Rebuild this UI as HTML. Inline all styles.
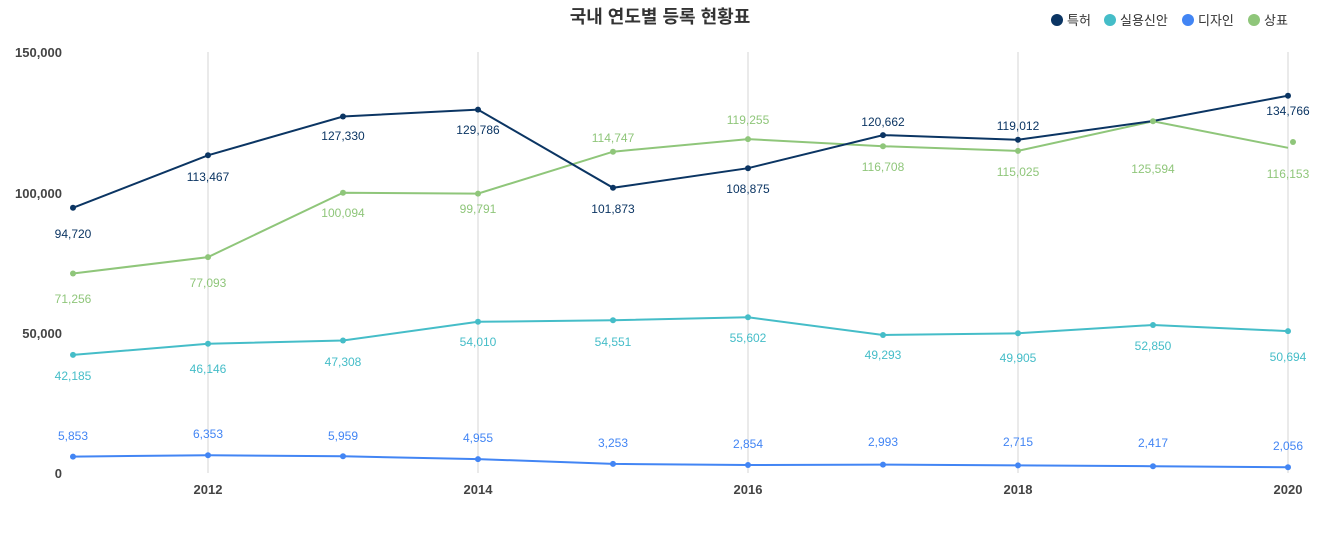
<!DOCTYPE html>
<html><head><meta charset="utf-8"><style>
html,body{margin:0;padding:0;background:#fff;width:1321px;height:533px;overflow:hidden}
svg{display:block;font-family:"Liberation Sans","Noto Sans CJK KR",sans-serif}
</style></head><body>
<svg width="1321" height="533" viewBox="0 0 1321 533">
<text x="660" y="23" text-anchor="middle" font-size="18" font-weight="bold" fill="#333">국내 연도별 등록 현황표</text>
<g font-size="13" fill="#333">
<circle cx="1057" cy="20" r="6" fill="#0b3563"/><text x="1067" y="25">특허</text>
<circle cx="1110" cy="20" r="6" fill="#45bdc8"/><text x="1120" y="25">실용신안</text>
<circle cx="1188" cy="20" r="6" fill="#4285f4"/><text x="1198" y="25">디자인</text>
<circle cx="1254" cy="20" r="6" fill="#8fc67a"/><text x="1264" y="25">상표</text>
</g>
<g stroke="#d6d6d6" stroke-width="1">
<line x1="208" y1="52" x2="208" y2="473"/><line x1="478" y1="52" x2="478" y2="473"/><line x1="748" y1="52" x2="748" y2="473"/><line x1="1018" y1="52" x2="1018" y2="473"/><line x1="1288" y1="52" x2="1288" y2="473"/>
</g>
<g font-size="13" font-weight="bold" fill="#444" text-anchor="end">
<text x="62" y="57">150,000</text><text x="62" y="198">100,000</text><text x="62" y="338">50,000</text><text x="62" y="478">0</text>
</g>
<g font-size="13" font-weight="bold" fill="#444" text-anchor="middle">
<text x="208" y="494">2012</text><text x="478" y="494">2014</text><text x="748" y="494">2016</text><text x="1018" y="494">2018</text><text x="1288" y="494">2020</text>
</g>
<g fill="none" stroke-width="2">
<polyline stroke="#8fc67a" points="73,273.5 208,257.1 343,192.7 478,193.6 613,151.7 748,139.1 883,146.2 1018,150.9 1153,121.3 1288,147.8"/>
<polyline stroke="#0b3563" points="73,207.8 208,155.3 343,116.5 478,109.6 613,187.8 748,168.2 883,135.1 1018,139.8 1153,121 1288,95.7"/>
<polyline stroke="#45bdc8" points="73,354.9 208,343.8 343,340.5 478,321.8 613,320.3 748,317.3 883,335 1018,333.3 1153,325 1288,331.1"/>
<polyline stroke="#4285f4" points="73,456.6 208,455.2 343,456.3 478,459.1 613,463.9 748,465 883,464.6 1018,465.4 1153,466.2 1288,467.2"/>
</g>
<g fill="#8fc67a"><circle cx="73" cy="273.5" r="3"/><circle cx="208" cy="257.1" r="3"/><circle cx="343" cy="192.7" r="3"/><circle cx="478" cy="193.6" r="3"/><circle cx="613" cy="151.7" r="3"/><circle cx="748" cy="139.1" r="3"/><circle cx="883" cy="146.2" r="3"/><circle cx="1018" cy="150.9" r="3"/><circle cx="1153" cy="121.3" r="3"/><circle cx="1293" cy="142" r="3"/></g>
<g fill="#0b3563"><circle cx="73" cy="207.8" r="3"/><circle cx="208" cy="155.3" r="3"/><circle cx="343" cy="116.5" r="3"/><circle cx="478" cy="109.6" r="3"/><circle cx="613" cy="187.8" r="3"/><circle cx="748" cy="168.2" r="3"/><circle cx="883" cy="135.1" r="3"/><circle cx="1018" cy="139.8" r="3"/><circle cx="1288" cy="95.7" r="3"/></g>
<g fill="#45bdc8"><circle cx="73" cy="354.9" r="3"/><circle cx="208" cy="343.8" r="3"/><circle cx="343" cy="340.5" r="3"/><circle cx="478" cy="321.8" r="3"/><circle cx="613" cy="320.3" r="3"/><circle cx="748" cy="317.3" r="3"/><circle cx="883" cy="335" r="3"/><circle cx="1018" cy="333.3" r="3"/><circle cx="1153" cy="325" r="3"/><circle cx="1288" cy="331.1" r="3"/></g>
<g fill="#4285f4"><circle cx="73" cy="456.6" r="3"/><circle cx="208" cy="455.2" r="3"/><circle cx="343" cy="456.3" r="3"/><circle cx="478" cy="459.1" r="3"/><circle cx="613" cy="463.9" r="3"/><circle cx="748" cy="465" r="3"/><circle cx="883" cy="464.6" r="3"/><circle cx="1018" cy="465.4" r="3"/><circle cx="1153" cy="466.2" r="3"/><circle cx="1288" cy="467.2" r="3"/></g>
<g font-size="12" text-anchor="middle">
<g fill="#0b3563"><text x="73" y="238">94,720</text><text x="208" y="181">113,467</text><text x="343" y="140">127,330</text><text x="478" y="134">129,786</text><text x="613" y="213">101,873</text><text x="748" y="193">108,875</text><text x="883" y="126">120,662</text><text x="1018" y="130">119,012</text><text x="1288" y="115">134,766</text></g>
<g fill="#8fc67a"><text x="73" y="303">71,256</text><text x="208" y="287">77,093</text><text x="343" y="217">100,094</text><text x="478" y="213">99,791</text><text x="613" y="142">114,747</text><text x="748" y="124">119,255</text><text x="883" y="171">116,708</text><text x="1018" y="176">115,025</text><text x="1153" y="173">125,594</text><text x="1288" y="178">116,153</text></g>
<g fill="#45bdc8"><text x="73" y="380">42,185</text><text x="208" y="373">46,146</text><text x="343" y="366">47,308</text><text x="478" y="346">54,010</text><text x="613" y="346">54,551</text><text x="748" y="342">55,602</text><text x="883" y="359">49,293</text><text x="1018" y="362">49,905</text><text x="1153" y="350">52,850</text><text x="1288" y="361">50,694</text></g>
<g fill="#4285f4"><text x="73" y="440">5,853</text><text x="208" y="438">6,353</text><text x="343" y="440">5,959</text><text x="478" y="442">4,955</text><text x="613" y="447">3,253</text><text x="748" y="448">2,854</text><text x="883" y="446">2,993</text><text x="1018" y="446">2,715</text><text x="1153" y="447">2,417</text><text x="1288" y="450">2,056</text></g>
</g>
</svg>
</body></html>
